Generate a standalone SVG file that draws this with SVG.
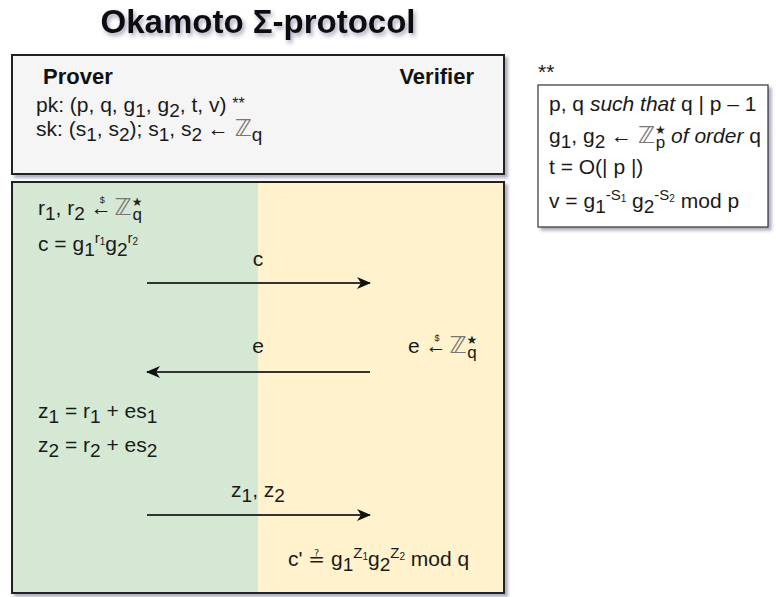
<svg xmlns="http://www.w3.org/2000/svg" width="776" height="597" viewBox="0 0 776 597">
<defs>
  <filter id="sh" x="-10%" y="-10%" width="130%" height="130%">
    <feDropShadow dx="3" dy="3" stdDeviation="1.5" flood-color="#3a3a60" flood-opacity="0.4"/>
  </filter>
  <filter id="tsh" x="-10%" y="-30%" width="130%" height="180%">
    <feDropShadow dx="2" dy="3" stdDeviation="2" flood-color="#3a3a70" flood-opacity="0.45"/>
  </filter>
  <marker id="arr" viewBox="0 0 14 12" refX="13" refY="6" markerWidth="14" markerHeight="12" markerUnits="userSpaceOnUse" orient="auto">
    <path d="M0,0 L14,6 L0,12 L4,6 Z" fill="#111"/>
  </marker>
</defs>
<style>
  text { font-family: "Liberation Sans", Arial, sans-serif; fill: #1a1a1a; font-size: 21px; }
  .title { font-size: 33px; font-weight: bold; fill: #111; }
  .hdr { font-size: 22px; font-weight: bold; fill: #111; }
  .z { font-family: "DejaVu Sans", sans-serif; fill: #777; font-size: 23px; }
  .sub { baseline-shift: -5px; font-size: 19px; }
  .sup { baseline-shift: 8px; font-size: 15px; }
  .ssub { baseline-shift: -2px; font-size: 10px; }
  .star { font-family: "DejaVu Sans", sans-serif; baseline-shift: 9px; font-size: 12px; fill: #222; }
  .zsub { baseline-shift: -5px; font-size: 17px; }
  .tiny { font-size: 9px; baseline-shift: 12px; }
  .conn { stroke: #333; stroke-width: 2; fill: none; marker-end: url(#arr); }
</style>

<g id="title">
  <text class="title" x="258" y="33" text-anchor="middle" filter="url(#tsh)">Okamoto Σ-protocol</text>
</g>

<g id="keys">
  <rect x="12" y="55" width="492" height="119" fill="#f5f5f5" stroke="#222" stroke-width="2" filter="url(#sh)"/>
  <text class="hdr" x="43" y="84">Prover</text>
  <text class="hdr" x="474" y="84" text-anchor="end">Verifier</text>
  <text x="36" y="112">pk: (p, q, g<tspan class="sub">1</tspan>, g<tspan class="sub">2</tspan>, t, v) <tspan font-size="16" baseline-shift="3px">**</tspan></text>
  <text x="36" y="136">sk: (s<tspan class="sub">1</tspan>, s<tspan class="sub">2</tspan>); s<tspan class="sub">1</tspan>, s<tspan class="sub">2</tspan> ← <tspan class="z" font-size="25">ℤ</tspan><tspan class="sub">q</tspan></text>
</g>

<g id="params">
  <text x="538" y="79" font-size="13">**</text>
  <rect x="538" y="85" width="230" height="142" fill="#ffffff" stroke="#333" stroke-width="1.2" filter="url(#sh)"/>
  <text x="549" y="111">p, q <tspan font-style="italic">such that</tspan> q | p – 1</text>
  <text x="549" y="143">g<tspan class="sub">1</tspan>, g<tspan class="sub">2</tspan> ← <tspan class="z">ℤ</tspan><tspan class="star">★</tspan><tspan dx="-10" class="zsub">p</tspan> <tspan font-style="italic">of order</tspan> q</text>
  <text x="549" y="174">t = O(| p |)</text>
  <text x="549" y="208">v = g<tspan class="sub">1</tspan><tspan class="sup">-S<tspan class="ssub">1</tspan></tspan> g<tspan class="sub">2</tspan><tspan class="sup">-S<tspan class="ssub">2</tspan></tspan>  mod p</text>
</g>

<g id="protocol">
  <rect x="12" y="182" width="492" height="411" fill="#fff2cc" stroke="#222" stroke-width="2" filter="url(#sh)"/>
  <rect x="13" y="183" width="245" height="409" fill="#d5e8d4"/>
  <text x="38" y="215">r<tspan class="sub">1</tspan>, r<tspan class="sub">2</tspan> <tspan>←</tspan><tspan class="tiny" dx="-12">$</tspan> <tspan class="z" dx="4">ℤ</tspan><tspan class="star">★</tspan><tspan dx="-10" class="zsub">q</tspan></text>
  <text x="38" y="251">c = g<tspan class="sub">1</tspan><tspan class="sup">r<tspan class="ssub">1</tspan></tspan>g<tspan class="sub">2</tspan><tspan class="sup">r<tspan class="ssub">2</tspan></tspan></text>
  <text x="408" y="353">e <tspan>←</tspan><tspan class="tiny" dx="-12">$</tspan> <tspan class="z" dx="4">ℤ</tspan><tspan class="star">★</tspan><tspan dx="-10" class="zsub">q</tspan></text>
  <text x="38" y="418">z<tspan class="sub">1</tspan> = r<tspan class="sub">1</tspan> + es<tspan class="sub">1</tspan></text>
  <text x="38" y="452">z<tspan class="sub">2</tspan> = r<tspan class="sub">2</tspan> + es<tspan class="sub">2</tspan></text>
  <text x="288" y="566">c' <tspan font-family="DejaVu Sans" font-size="20">≟</tspan> g<tspan class="sub">1</tspan><tspan class="sup" font-size="18">Z<tspan class="ssub">1</tspan></tspan>g<tspan class="sub">2</tspan><tspan class="sup" font-size="18">Z<tspan class="ssub">2</tspan></tspan> mod q</text>
</g>

<g id="connectors">
  <line class="conn" x1="147" y1="283" x2="370" y2="283"/>
  <text x="258" y="266" text-anchor="middle">c</text>
  <line class="conn" x1="370" y1="372" x2="147" y2="372"/>
  <text x="258" y="353" text-anchor="middle">e</text>
  <line class="conn" x1="147" y1="515" x2="370" y2="515"/>
  <text x="258" y="497" text-anchor="middle">z<tspan class="sub">1</tspan>, z<tspan class="sub">2</tspan></text>
</g>
</svg>
